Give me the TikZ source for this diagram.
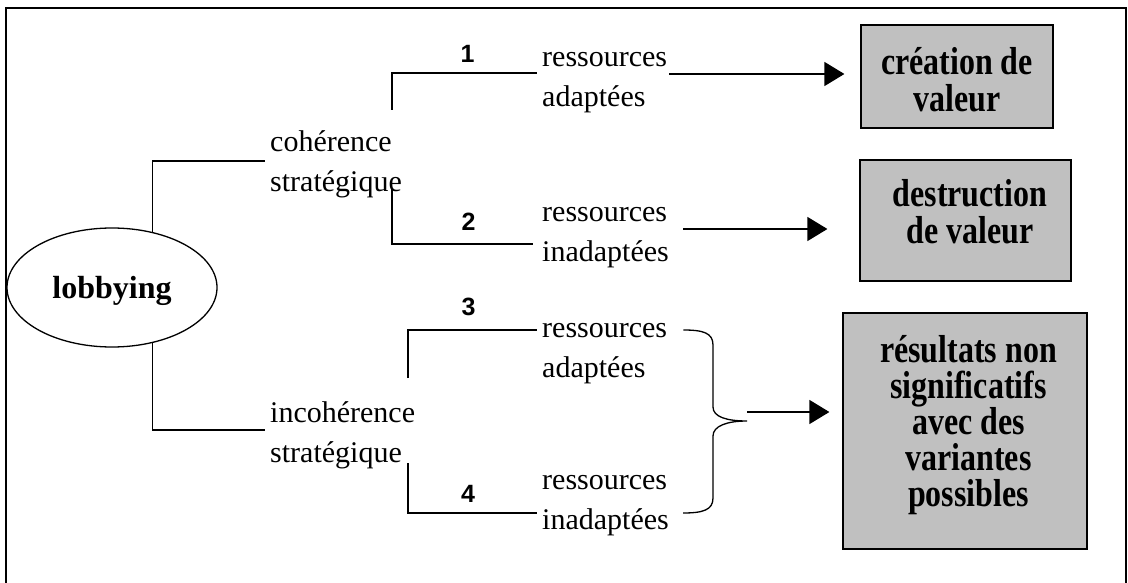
\documentclass[tikz,border=0pt]{standalone}
\usepackage{fontspec}
\setmainfont{Liberation Serif}
\newfontfamily\regfont{Liberation Serif}
\newfontfamily\bfont[FakeStretch=0.82]{Liberation Serif}
\newfontfamily\numfont{Liberation Sans}
\usetikzlibrary{shapes.geometric,arrows.meta,calc}
\definecolor{boxgray}{HTML}{C0C0C0}
\begin{document}
\begin{tikzpicture}[x=1pt,y=-1pt,
  conn/.style={line width=1.3pt},
  arr/.style={line width=1.3pt,-{Triangle[length=20pt,width=24pt]}},
  txt/.style={inner sep=0pt,anchor=west,align=left,font=\regfont\fontsize{30}{40}\selectfont},
  num/.style={inner sep=0pt,font=\numfont\bfseries\fontsize{25}{25}\selectfont},
  outbox/.style={draw,line width=1.2pt,fill=boxgray,inner sep=0pt},
  boxtxt/.style={inner sep=0pt,align=center,font=\bfont\bfseries\fontsize{39}{37}\selectfont},
]
\useasboundingbox (0,0) rectangle (1128,583);
\clip (0,0) rectangle (1128,583);
\fill[white] (0,0) rectangle (1128,583);
\draw[line width=2pt] (6,8) rectangle (1126,600);

% root
\node[draw,ellipse,line width=1.3pt,minimum width=210pt,minimum height=119pt,inner sep=0pt,
      text depth=0pt,font=\bfseries\fontsize{32}{32}\selectfont] (lob) at (112,287.5) {lobbying};

% strategy texts
\node[txt] (coh) at (270,164) {\strut cohérence\\\strut stratégique};
\node[txt] (incoh) at (270,434) {\strut incohérence\\\strut stratégique};

% resource texts
\node[txt] (res1) at (542,79) {\strut ressources\\\strut adaptées};
\node[txt] (res2) at (542,234) {\strut ressources\\\strut inadaptées};
\node[txt] (res3) at (542,349) {\strut ressources\\\strut adaptées};
\node[txt] (res4) at (542,501) {\strut ressources\\\strut inadaptées};

% numbers
\node[num] (n1) at (467.5,53.5) {1};
\node[num] (n2) at (468.5,221.5) {2};
\node[num] (n3) at (468.5,306.5) {3};
\node[num] (n4) at (468,493.5) {4};

% outcome boxes
\node[outbox,minimum width=192pt,minimum height=103pt] (b1) at (957,76.5) {};
\node[boxtxt] (t1) at ([yshift=-3.5pt]b1.center) {création de\\valeur};
\node[outbox,minimum width=211pt,minimum height=121pt] (b2) at (965.5,220.5) {};
\node[boxtxt] (t2) at ([xshift=4.5pt,yshift=8.5pt]b2.center) {destruction\\de valeur};
\node[outbox,minimum width=244pt,minimum height=236pt] (b3) at (965,431) {};
\node[boxtxt,font=\bfont\bfseries\fontsize{39}{36}\selectfont] (t3) at ([xshift=3.5pt,yshift=6.25pt]b3.center)
  {résultats non\\significatifs\\avec des\\variantes\\possibles};

% connectors from root
\draw[conn] (lob.54) |- ([xshift=-5pt,yshift=3pt]coh.west);
\draw[conn] (lob.-54) |- ([xshift=-5pt,yshift=4pt]incoh.west);

% branches
\coordinate (k1) at (392,110);
\coordinate (k2) at (392,188);
\coordinate (k3) at (408,378);
\coordinate (k4) at (408,463);
\draw[conn] (k1) |- ([xshift=-5pt,yshift=6pt]res1.west);
\draw[conn] (k2) |- ([xshift=-9pt,yshift=-10pt]res2.west);
\draw[conn] (k3) |- ([xshift=-5pt,yshift=19pt]res3.west);
\draw[conn] (k4) |- ([xshift=-5pt,yshift=-12pt]res4.west);

% arrows to boxes
\draw[arr,shorten >=16pt] ([xshift=2pt,yshift=5pt]res1.east) -- ([yshift=5pt]res1.east -| b1.west);
\draw[arr,shorten >=32pt] ([xshift=14pt,yshift=5pt]res2.east) -- ([yshift=5pt]res2.east -| b2.west);

% brace
\coordinate (bt) at (747,421);
\draw[conn] ([xshift=16pt,yshift=19pt]res3.east) .. controls +(20,0) and +(0,-12) .. (713,345)
  -- (713,407) .. controls +(0,10) and +(-20,0) .. (bt)
  .. controls +(-20,0) and +(0,-10) .. (713,436)
  -- (713,498) .. controls +(0,12) and +(20,0) .. ([xshift=14pt,yshift=-12pt]res4.east);
\coordinate (at) at (747,412);
\draw[arr,shorten >=13pt] (at) -- (at -| b3.west);
\end{tikzpicture}
\end{document}
